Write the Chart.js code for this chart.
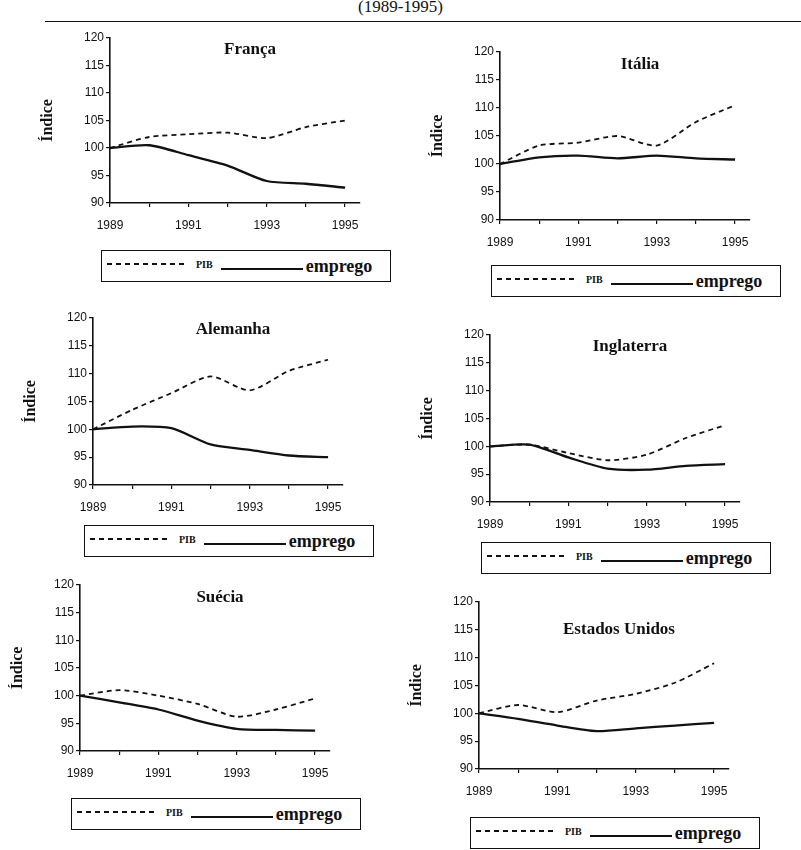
<!DOCTYPE html>
<html>
<head>
<meta charset="utf-8">
<script src="https://cdn.jsdelivr.net/npm/chart.js@4.4.1/dist/chart.umd.min.js"></script>
<style>
  body { margin: 0; background: #fff; }
  #page { position: relative; width: 801px; height: 850px; overflow: hidden; background: #fff; }
  #header { position: absolute; left: 0; width: 801px; top: -3px; text-align: center;
    font: 17px "Liberation Serif", "DejaVu Serif", serif; color: #111; }
  #rule { position: absolute; left: 45px; top: 21px; width: 756px; border-top: 1.5px solid #111; }
  canvas { position: absolute; }
  .legend { position: absolute; width: 290px; height: 32px; border: 1.5px solid #111; box-sizing: border-box;
    display: flex; align-items: center; color: #111; }
  .legend .dash { width: 80px; height: 2px; margin-left: 5px; margin-top: -4px;
    background: repeating-linear-gradient(to right, #111 0 5px, transparent 5px 9px); }
  .legend .pib { font: bold 10px "Liberation Serif", "DejaVu Serif", serif; margin-left: 9px; margin-top: -4px; }
  .legend .solid { width: 82px; margin-left: 8px; border-top: 2.4px solid #111; margin-top: 6px; }
  .legend .emp { font: bold 18px "Liberation Serif", "DejaVu Serif", serif; margin-left: 3px; }
</style>
</head>
<body>
<div id="page">
  <div id="header">(1989-1995)</div>
  <div id="rule"></div>
</div>
<script>
// DATA
const years = [1989, 1990, 1991, 1992, 1993, 1994, 1995];
const xTickLabels = ['1989', '', '1991', '', '1993', '', '1995'];
const yTicks = [90, 95, 100, 105, 110, 115, 120];

const francaPib = [100, 102, 102.5, 102.8, 101.8, 103.8, 105];
const francaEmprego = [100, 100.5, 98.7, 96.8, 94, 93.5, 92.8];

const italiaPib = [100, 103.3, 103.8, 105, 103.3, 107.5, 110.5];
const italiaEmprego = [100, 101.2, 101.5, 101, 101.5, 101, 100.8];

const alemanhaPib = [100, 103.5, 106.5, 109.5, 107, 110.5, 112.5];
const alemanhaEmprego = [100, 100.5, 100.2, 97.3, 96.3, 95.3, 95];

const inglaterraPib = [100, 100.3, 98.8, 97.5, 98.5, 101.5, 103.8];
const inglaterraEmprego = [100, 100.3, 98, 96, 95.8, 96.5, 96.8];

const sueciaPib = [100, 101, 100, 98.5, 96.2, 97.5, 99.5];
const sueciaEmprego = [100, 98.8, 97.5, 95.5, 94, 93.8, 93.7];

const euaPib = [100, 101.5, 100.2, 102.3, 103.5, 105.5, 109];
const euaEmprego = [100, 99, 97.8, 96.8, 97.3, 97.8, 98.3];

// LAYOUT (page positions of each panel's axes)
const panels = [
  { name: 'França', pib: francaPib, emp: francaEmprego, axisX: 110, top: 38, bottom: 203, titleDy: 12, legendTop: 250 },
  { name: 'Itália', pib: italiaPib, emp: italiaEmprego, axisX: 500, top: 52, bottom: 220, titleDy: 13, legendTop: 265 },
  { name: 'Alemanha', pib: alemanhaPib, emp: alemanhaEmprego, axisX: 93, top: 318, bottom: 485, titleDy: 12, legendTop: 525 },
  { name: 'Inglaterra', pib: inglaterraPib, emp: inglaterraEmprego, axisX: 490, top: 335, bottom: 502, titleDy: 12, legendTop: 542 },
  { name: 'Suécia', pib: sueciaPib, emp: sueciaEmprego, axisX: 80, top: 585, bottom: 751, titleDy: 13, legendTop: 798 },
  { name: 'Estados Unidos', pib: euaPib, emp: euaEmprego, axisX: 479, top: 602, bottom: 769, titleDy: 28, legendTop: 817 }
];

const INK = '#111';
const sansFont = '"Liberation Sans", Arial, sans-serif';
const serifFont = '"Liberation Serif", "DejaVu Serif", serif';
const yAxisWidth = 72;
const xAxisHeight = 35;
const padTop = 10;
const padRight = 10;
const plotWidth = 250;

// draws the country name inside the plot area
const panelName = {
  id: 'panelName',
  afterDraw(chart, args, opts) {
    const ctx = chart.ctx;
    const area = chart.chartArea;
    ctx.save();
    ctx.fillStyle = INK;
    ctx.font = 'bold 17px ' + serifFont;
    ctx.textAlign = 'center';
    ctx.textBaseline = 'middle';
    ctx.fillText(opts.text, area.left + 140, area.top + opts.dy);
    ctx.restore();
  }
};

function toPoints(values) {
  return values.map((v, i) => ({ x: years[i], y: v }));
}

const page = document.getElementById('page');

panels.forEach(p => {
  const canvas = document.createElement('canvas');
  const w = yAxisWidth + plotWidth + padRight;
  const h = padTop + (p.bottom - p.top) + xAxisHeight;
  canvas.width = w;
  canvas.height = h;
  canvas.style.width = w + 'px';
  canvas.style.height = h + 'px';
  canvas.style.left = (p.axisX - yAxisWidth) + 'px';
  canvas.style.top = (p.top - padTop) + 'px';
  page.appendChild(canvas);

  new Chart(canvas.getContext('2d'), {
    type: 'line',
    data: {
      datasets: [{
        label: 'PIB',
        data: toPoints(p.pib),
        borderColor: INK,
        borderWidth: 1.8,
        borderDash: [5, 4],
        pointRadius: 0,
        tension: 0.25
      }, {
        label: 'emprego',
        data: toPoints(p.emp),
        borderColor: INK,
        borderWidth: 2.3,
        pointRadius: 0,
        tension: 0.25
      }]
    },
    plugins: [panelName],
    options: {
      responsive: false,
      animation: false,
      layout: { padding: { top: padTop, right: padRight, left: 0, bottom: 0 } },
      plugins: {
        legend: { display: false },
        tooltip: { enabled: false },
        panelName: { text: p.name, dy: p.titleDy }
      },
      scales: {
        x: {
          type: 'linear',
          min: 1989,
          max: 1989 + plotWidth / 39.3,
          afterBuildTicks: scale => { scale.ticks = years.map(v => ({ value: v })); },
          afterFit: scale => { scale.height = xAxisHeight; },
          ticks: {
            autoSkip: false,
            maxRotation: 0,
            padding: 11,
            color: INK,
            font: { family: sansFont, size: 12 },
            callback: (v, i) => xTickLabels[i]
          },
          grid: { drawOnChartArea: false, drawTicks: true, tickLength: 4, color: INK, lineWidth: 1.2 },
          border: { color: INK, width: 1.6 }
        },
        y: {
          min: 90,
          max: 120,
          afterBuildTicks: scale => { scale.ticks = yTicks.map(v => ({ value: v })); },
          afterFit: scale => { scale.width = yAxisWidth; },
          ticks: {
            padding: 2,
            color: INK,
            font: { family: sansFont, size: 12 }
          },
          title: {
            display: true,
            text: 'Índice',
            color: INK,
            font: { family: serifFont, size: 16, weight: 'bold' },
            padding: 0
          },
          grid: { drawOnChartArea: false, drawTicks: true, tickLength: 4, color: INK, lineWidth: 1.2 },
          border: { color: INK, width: 1.6 }
        }
      }
    }
  });

  // legend box under each panel
  const legend = document.createElement('div');
  legend.className = 'legend';
  legend.style.left = (p.axisX - 9) + 'px';
  legend.style.top = p.legendTop + 'px';
  legend.innerHTML = '<span class="dash"></span><span class="pib">PIB</span>' +
    '<span class="solid"></span><span class="emp">emprego</span>';
  page.appendChild(legend);
});
</script>
</body>
</html>
